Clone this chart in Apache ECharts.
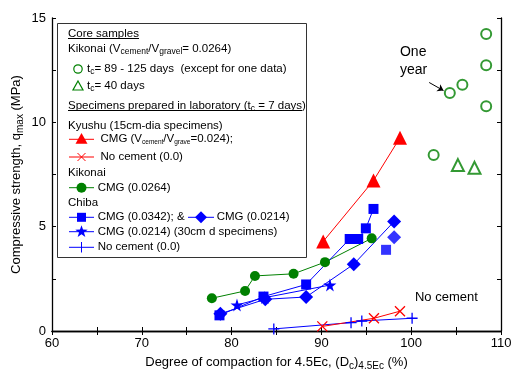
<!DOCTYPE html>
<html>
<head>
<meta charset="utf-8">
<script src="https://cdn.jsdelivr.net/npm/echarts@6/dist/echarts.min.js"></script>
<style>
  html, body { margin: 0; padding: 0; background: #fff; }
  #chart { width: 512px; height: 372px; }
</style>
</head>
<body>
<div id="chart"></div>
<script>
// tick labels
const xLabels = [60, 70, 80, 90, 100, 110];
const yLabels = [0, 5, 10, 15];

// core samples, Kikonai
const coreLong = [[108.35, 14.23], [108.35, 12.74], [105.7, 11.8], [104.3, 11.41], [108.35, 10.77], [102.5, 8.43]];
const core40 = [[105.2, 7.95], [107.05, 7.82]];
// laboratory, Kyushu
const kyushuCmg = [[90.2, 4.29], [95.8, 7.21], [98.75, 9.26]];
const kyushuNone = [[90.1, 0.22], [95.85, 0.61], [98.75, 0.95]];
// laboratory, Kikonai
const kikonaiCmg = [[77.8, 1.57], [81.5, 1.92], [82.6, 2.64], [86.9, 2.74], [90.4, 3.3], [95.6, 4.44]];
// laboratory, Chiba
const chibaSq = [[78.65, 0.75], [83.55, 1.65], [88.3, 2.23], [93.15, 4.41], [94.1, 4.41], [94.95, 4.92], [95.8, 5.85]];
const chibaSqLone = [[97.2, 3.89]];
const chibaDia = [[78.75, 0.83], [83.75, 1.52], [88.3, 1.63], [93.6, 3.2], [98.1, 5.25]];
const chibaDiaLone = [[98.1, 4.49]];
const chibaStar = [[80.6, 1.25], [83.7, 1.6], [90.95, 2.2]];
const chibaNone = [[84.7, 0.1], [93.3, 0.4], [94.5, 0.48], [100.1, 0.61]];

// annotations (data coords)
const oneYearArrow = [[102.0, 11.91], [103.6, 11.52]];
const oneYearPos = [98.75, 13.8];
const noCementPos = [100.42, 1.63];

const RED = '#ff0000', GREEN = '#008000', BLUE = '#0000ff';
const FONT = 'Liberation Sans, Arial, sans-serif';
const STAR = 'path://M50,0L61,35L98,35L68,57L79,91L50,70L21,91L32,57L2,35L39,35Z';
const CROSS = 'path://M0,0L10,10M10,0L0,10';
const PLUS = 'path://M5,0L5,10M0,5L10,5';

const chart = echarts.init(document.getElementById('chart'));

function axisX(pos, labels) {
  return {
    type: 'value', position: pos, min: 60, max: 110, interval: 5,
    axisLine: { lineStyle: { color: '#000', width: 1.3 } },
    axisTick: { inside: true, length: 4, lineStyle: { color: '#000' } },
    axisLabel: {
      show: labels, color: '#000', fontSize: 13, fontFamily: FONT, margin: 6,
      formatter: v => xLabels.includes(v) ? String(v) : ''
    },
    splitLine: { show: false }
  };
}
function axisY(pos, labels) {
  return {
    type: 'value', position: pos, min: 0, max: 15, interval: 2.5,
    axisLine: { lineStyle: { color: '#000', width: 1.3 } },
    axisTick: { inside: true, length: 4, lineStyle: { color: '#000' } },
    axisLabel: {
      show: labels, color: '#000', fontSize: 13, fontFamily: FONT, margin: 6,
      formatter: v => yLabels.includes(v) ? String(v) : ''
    },
    splitLine: { show: false }
  };
}

const xMain = axisX('bottom', true);
xMain.name = 'Degree of compaction for 4.5Ec, (D{s|c}){s|4.5Ec} (%)';
xMain.nameLocation = 'middle';
xMain.nameGap = 23;
xMain.nameTextStyle = { color: '#000', fontSize: 13, fontFamily: FONT,
  rich: { s: { fontSize: 10, fontFamily: FONT, padding: [7, 0, 0, 0] } } };
const yMain = axisY('left', true);
yMain.name = 'Compressive strength, q{s|max} (MPa)';
yMain.nameLocation = 'middle';
yMain.nameGap = 27;
yMain.nameMoveOverlap = false;
yMain.nameTextStyle = { color: '#000', fontSize: 13, fontFamily: FONT,
  rich: { s: { fontSize: 10, fontFamily: FONT, padding: [7, 0, 0, 0] } } };

function lineSeries(data, color, symbol, size, extra) {
  return Object.assign({
    type: 'line', data: data, symbol: symbol, symbolSize: size,
    lineStyle: { color: color, width: 1 },
    itemStyle: { color: color },
    animation: false
  }, extra || {});
}
const strokeOnly = c => ({ itemStyle: { color: 'transparent', borderColor: c, borderWidth: 1.3 } });

const option = {
  animation: false,
  grid: { left: 52, right: 11, top: 18, bottom: 41, outerBoundsMode: 'none', containLabel: false },
  xAxis: [xMain, axisX('top', false)],
  yAxis: [yMain, axisY('right', false)],
  series: [
    { type: 'scatter', data: coreLong, symbol: 'emptyCircle', symbolSize: 10,
      itemStyle: { color: GREEN, borderWidth: 1.2 },
      markLine: {
        silent: true, symbol: ['none', 'arrow'], symbolSize: 6,
        label: { show: false }, lineStyle: { color: '#000', width: 1, type: 'solid' },
        data: [[{ coord: oneYearArrow[0] }, { coord: oneYearArrow[1] }]]
      } },
    { type: 'scatter', data: core40, symbol: 'emptyTriangle', symbolSize: 12,
      itemStyle: { color: GREEN, borderWidth: 1.2 } },
    lineSeries(kikonaiCmg, GREEN, 'circle', 10),
    lineSeries(chibaNone, BLUE, PLUS, 11, strokeOnly(BLUE)),
    lineSeries(chibaStar, BLUE, STAR, 13),
    lineSeries(chibaDia, BLUE, 'diamond', 14),
    { type: 'scatter', data: chibaDiaLone, symbol: 'diamond', symbolSize: 14, itemStyle: { color: BLUE } },
    lineSeries(chibaSq, BLUE, 'rect', 10),
    { type: 'scatter', data: chibaSqLone, symbol: 'rect', symbolSize: 10, itemStyle: { color: BLUE } },
    lineSeries(kyushuNone, RED, CROSS, 10, strokeOnly(RED)),
    lineSeries(kyushuCmg, RED, 'triangle', 14)
  ]
};
chart.setOption(option);

// legend box + annotations
const rich = {
  s: { fontSize: 8.5, fontFamily: FONT, padding: [6, 0, 0, 0] },
  t: { fontSize: 6.5, fontFamily: FONT, padding: [6, 0, 0, 0] }
};
function txt(x, y, text, size) {
  return { type: 'text', x: x, y: y, z: 100,
    style: { text: text, fill: '#000', font: (size || 11.5) + 'px ' + FONT, verticalAlign: 'middle', rich: rich } };
}
function seg(x1, y1, x2, y2, color) {
  return { type: 'line', z: 100, shape: { x1: x1, y1: y1, x2: x2, y2: y2 }, style: { stroke: color, lineWidth: 1 } };
}
function tri(cx, cy, r, color, filled) {
  return { type: 'polygon', z: 101, shape: { points: [[cx, cy - r], [cx + r, cy + r * 0.8], [cx - r, cy + r * 0.8]] },
    style: filled ? { fill: color } : { fill: '#fff', stroke: color, lineWidth: 1.2 } };
}
function circ(cx, cy, r, color, filled) {
  return { type: 'circle', z: 101, shape: { cx: cx, cy: cy, r: r },
    style: filled ? { fill: color } : { fill: '#fff', stroke: color, lineWidth: 1.2 } };
}
function diam(cx, cy, r, color) {
  return { type: 'polygon', z: 101, shape: { points: [[cx, cy - r], [cx + r, cy], [cx, cy + r], [cx - r, cy]] }, style: { fill: color } };
}
function star(cx, cy, r, color) {
  const pts = [];
  for (let i = 0; i < 10; i++) {
    const a = -Math.PI / 2 + i * Math.PI / 5, rr = i % 2 ? r * 0.4 : r;
    pts.push([cx + rr * Math.cos(a), cy + rr * Math.sin(a)]);
  }
  return { type: 'polygon', z: 101, shape: { points: pts }, style: { fill: color } };
}

const L1 = 69, L2 = 94;
const els = [
  { type: 'rect', z: 99, shape: { x: 57.5, y: 23.5, width: 249, height: 234 }, style: { fill: '#fff', stroke: '#333', lineWidth: 1 } },
  txt(68, 34, 'Core samples'),
  seg(68, 38.5, 139, 38.5, '#000'),
  txt(68, 49, 'Kikonai (V{s|cement}/V{s|gravel}= 0.0264)'),
  circ(78, 69, 4.2, GREEN, false),
  txt(87, 69, 't{s|c}= 89 - 125 days  (except for one data)'),
  tri(78, 86, 5, GREEN, false),
  txt(87, 86, 't{s|c}= 40 days'),
  txt(68, 105.5, 'Specimens prepared in laboratory (t{s|c} = 7 days)'),
  seg(68, 110.5, 302, 110.5, '#000'),
  txt(68, 125.5, 'Kyushu (15cm-dia specimens)'),
  seg(L1, 139.3, L2, 139.3, RED), tri(81.5, 139, 6, RED, true),
  txt(100.5, 139.3, 'CMG (V{t|cement}/V{t|grave}=0.024);'),
  seg(L1, 157, L2, 157, RED), seg(77.5, 153, 85.5, 161, RED), seg(85.5, 153, 77.5, 161, RED),
  txt(100.5, 157, 'No cement (0.0)'),
  txt(68, 172.7, 'Kikonai'),
  seg(L1, 187.7, L2, 187.7, GREEN), circ(81.5, 187.7, 5, GREEN, true),
  txt(97.7, 187.7, 'CMG (0.0264)'),
  txt(68, 202.7, 'Chiba'),
  seg(L1, 217.3, L2, 217.3, BLUE), { type: 'rect', z: 101, shape: { x: 77, y: 212.8, width: 9, height: 9 }, style: { fill: BLUE } },
  txt(97.7, 217.3, 'CMG (0.0342); &'),
  seg(188, 217.3, 214, 217.3, BLUE), diam(201, 217.3, 6, BLUE),
  txt(216.7, 217.3, 'CMG (0.0214)'),
  seg(L1, 231.7, L2, 231.7, BLUE), star(81.5, 231.7, 6.5, BLUE),
  txt(97.7, 231.7, 'CMG (0.0214) (30cm d specimens)'),
  seg(L1, 247.3, L2, 247.3, BLUE), seg(81.5, 242, 81.5, 252.5, BLUE),
  txt(97.7, 247.3, 'No cement (0.0)')
];

const oy = chart.convertToPixel({ xAxisIndex: 0, yAxisIndex: 0 }, oneYearPos);
els.push({ type: 'text', x: oy[0], y: oy[1], z: 100,
  style: { text: 'One\nyear', fill: '#000', font: '14px ' + FONT, lineHeight: 18, verticalAlign: 'top' } });
const nc = chart.convertToPixel({ xAxisIndex: 0, yAxisIndex: 0 }, noCementPos);
els.push({ type: 'text', x: nc[0], y: nc[1], z: 100,
  style: { text: 'No cement', fill: '#000', font: '13px ' + FONT, verticalAlign: 'middle' } });

chart.setOption({ graphic: { elements: els } });
</script>
</body>
</html>
